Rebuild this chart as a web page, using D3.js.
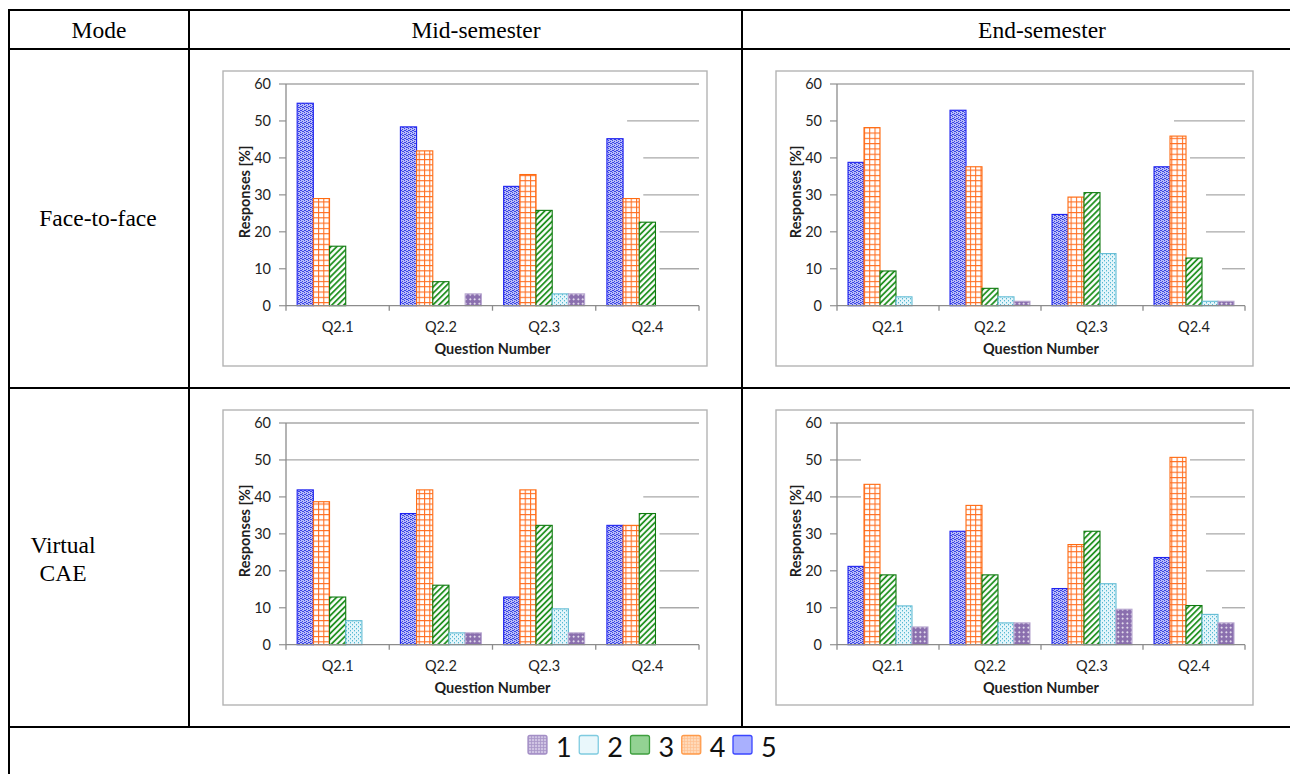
<!DOCTYPE html>
<html>
<head>
<meta charset="utf-8">
<script src="https://cdn.jsdelivr.net/npm/d3@7"></script>
<style>
  html, body { margin: 0; padding: 0; background: #fff; }
  svg { display: block; }
</style>
</head>
<body>
<svg id="chart" width="1290" height="774"></svg>
<script>
// ---------------- DATA ----------------
const categories = ["Q2.1", "Q2.2", "Q2.3", "Q2.4"];
const seriesOrder = ["5", "4", "3", "2", "1"];      // bar order within a group
const legendOrder = ["1", "2", "3", "4", "5"];
const yTicks = [0, 10, 20, 30, 40, 50, 60];
const rowLabels = ["Face-to-face", "Virtual\nCAE"];
const colLabels = ["Mode", "Mid-semester", "End-semester"];

// values per panel, rows follow seriesOrder (5,4,3,2,1), columns follow categories
const midF2F = [
  [54.8, 48.4, 32.3, 45.2],
  [29.0, 41.9, 35.5, 29.0],
  [16.1, 6.5, 25.8, 22.6],
  [0, 0, 3.2, 0],
  [0, 3.2, 3.2, 0]
];
const endF2F = [
  [38.8, 52.9, 24.7, 37.6],
  [48.2, 37.6, 29.4, 45.9],
  [9.4, 4.7, 30.6, 12.9],
  [2.4, 2.4, 14.1, 1.2],
  [0, 1.2, 0, 1.2]
];
const midCAE = [
  [41.9, 35.5, 12.9, 32.3],
  [38.7, 41.9, 41.9, 32.3],
  [12.9, 16.1, 32.3, 35.5],
  [6.5, 3.2, 9.7, 0],
  [0, 3.2, 3.2, 0]
];
const endCAE = [
  [21.2, 30.7, 15.2, 23.6],
  [43.4, 37.7, 27.1, 50.7],
  [18.9, 18.9, 30.7, 10.6],
  [10.5, 5.9, 16.5, 8.2],
  [4.8, 5.9, 9.6, 5.9]
];
// gridline visibility (levels 10..60): visible after the k-th bar of last group (0 = full)
const gridFromMidF2F = [3, 3, 2, 2, 1, 0];
const gridFromEndF2F = [4, 3, 3, 2, 1, 0];
const gridFromMidCAE = [3, 3, 3, 2, 0, 0];
const gridFromEndCAE = [4, 3, 3, 2, 2, 0];
const gridLeftEndCAE = [0, 0, 0, 1, 1, 0];

// ---------------- LAYOUT ----------------
const svg = d3.select("#chart");
const defs = svg.append("defs");

const panels = [
  {data: midF2F, grid: gridFromMidF2F, left: null,
   frame: [223, 71, 707, 366], plot: [286, 699, 84, 305.7]},
  {data: endF2F, grid: gridFromEndF2F, left: null,
   frame: [776, 71, 1253, 366], plot: [837, 1245, 84, 305.7]},
  {data: midCAE, grid: gridFromMidCAE, left: null,
   frame: [223, 410, 707, 705], plot: [286, 699, 423, 644.7]},
  {data: endCAE, grid: gridFromEndCAE, left: gridLeftEndCAE,
   frame: [776, 410, 1253, 705], plot: [837, 1245, 423, 644.7]}
];

// ---------------- PATTERNS ----------------
function pat(id, w, h, transform) {
  const p = defs.append("pattern").attr("id", id)
    .attr("patternUnits", "userSpaceOnUse").attr("width", w).attr("height", h);
  if (transform) p.attr("patternTransform", transform);
  return p;
}
// series 5 - blue stipple
let p5 = pat("p5", 4, 4);
p5.append("rect").attr("width", 4).attr("height", 4).attr("fill", "#b9bdf8");
[[0,0],[2,1],[1,2],[3,3],[2,3],[0,2]].forEach(([x,y]) =>
  p5.append("rect").attr("x", x).attr("y", y).attr("width", 1).attr("height", 1).attr("fill", "#3a44e4"));
// series 4 - orange grid
let p4 = pat("p4", 5.3, 5.3);
p4.append("rect").attr("width", 5.3).attr("height", 5.3).attr("fill", "#fff");
p4.append("path").attr("d", "M0,0.5H5.3M0.5,0V5.3").attr("stroke", "#ff6d1f").attr("stroke-width", 1.1);
// series 3 - green diagonal stripes
let p3 = pat("p3", 4.2, 4.2, "rotate(45)");
p3.append("rect").attr("width", 4.2).attr("height", 4.2).attr("fill", "#fff");
p3.append("line").attr("x1", 1).attr("x2", 1).attr("y1", 0).attr("y2", 4.2)
  .attr("stroke", "#128a12").attr("stroke-width", 1.7);
// series 2 - light cyan dots
let p2 = pat("p2", 4, 4);
p2.append("rect").attr("width", 4).attr("height", 4).attr("fill", "#e4f5fa");
[[0,0],[2,2]].forEach(([x,y]) =>
  p2.append("rect").attr("x", x).attr("y", y).attr("width", 1).attr("height", 1.4).attr("fill", "#55b9d3"));
// series 1 - purple with white dots
let p1 = pat("p1", 4.5, 4.5);
p1.append("rect").attr("width", 4.5).attr("height", 4.5).attr("fill", "#8a6fae");
p1.append("path").attr("d", "M2.25,1.3V3.2M1.3,2.25H3.2").attr("stroke", "#fff").attr("stroke-width", 0.9);

// legend patterns
let lp1 = pat("lp1", 3, 3);
lp1.append("rect").attr("width", 3).attr("height", 3).attr("fill", "#cfc3e3");
lp1.append("path").attr("d", "M0,0.5H3M0.5,0V3").attr("stroke", "#a895c8").attr("stroke-width", 0.8);
let lp4 = pat("lp4", 3, 3);
lp4.append("rect").attr("width", 3).attr("height", 3).attr("fill", "#ffd9b8");
lp4.append("path").attr("d", "M0,0.5H3M0.5,0V3").attr("stroke", "#ffc090").attr("stroke-width", 0.7);

const seriesStyle = {
  "5": {fill: "url(#p5)", stroke: "#1f22f0"},
  "4": {fill: "url(#p4)", stroke: "#ff6a10"},
  "3": {fill: "url(#p3)", stroke: "#0f7a0f"},
  "2": {fill: "url(#p2)", stroke: "#62bcd4"},
  "1": {fill: "url(#p1)", stroke: "#b7a6cf"}
};
const legendStyle = {
  "1": {fill: "url(#lp1)", stroke: "#a48fc6"},
  "2": {fill: "#e9f7fb", stroke: "#7fcbe0"},
  "3": {fill: "#93d293", stroke: "#3f9f3f"},
  "4": {fill: "url(#lp4)", stroke: "#ff9a4a"},
  "5": {fill: "#a9b0fe", stroke: "#3a45ff"}
};

// ---------------- TABLE ----------------
const tbl = svg.append("g").attr("stroke", "#000").attr("stroke-width", 2);
[10, 49, 388, 727].forEach(y => tbl.append("line").attr("x1", 8).attr("x2", 1290).attr("y1", y).attr("y2", y));
tbl.append("line").attr("x1", 9).attr("x2", 9).attr("y1", 9).attr("y2", 774);
[189, 742].forEach(x => tbl.append("line").attr("x1", x).attr("x2", x).attr("y1", 10).attr("y2", 727));

const serif = "'Liberation Serif', 'Times New Roman', serif";
const headX = [99, 476, 1042];
const headSize = 23.5;
colLabels.forEach((t, i) => svg.append("text").attr("x", headX[i]).attr("y", 37.5)
  .attr("text-anchor", "middle").attr("font-family", serif).attr("font-size", headSize).text(t));
svg.append("text").attr("x", 98).attr("y", 226).attr("text-anchor", "middle")
  .attr("font-family", serif).attr("font-size", headSize).text(rowLabels[0]);
rowLabels[1].split("\n").forEach((t, i) => svg.append("text").attr("x", 63).attr("y", 553 + i * 28)
  .attr("text-anchor", "middle").attr("font-family", serif).attr("font-size", headSize).text(t));

// ---------------- PANELS ----------------
const sans = "Lato, 'Open Sans', sans-serif";
const fs = 14.5;
panels.forEach(pn => {
  const [fx0, fy0, fx1, fy1] = pn.frame;
  const [px0, px1, py0, py1] = pn.plot;
  const g = svg.append("g");
  g.append("rect").attr("x", fx0).attr("y", fy0).attr("width", fx1 - fx0).attr("height", fy1 - fy0)
    .attr("fill", "#fff").attr("stroke", "#b4b4b4").attr("stroke-width", 1.4);

  const x0 = d3.scaleBand().domain(categories).range([px0, px1]).paddingInner(0).paddingOuter(0);
  const bw = x0.bandwidth();
  const x1 = d3.scaleBand().domain(seriesOrder).range([bw * 0.108, bw * 0.892]).padding(0);
  const y = d3.scaleLinear().domain([0, 60]).range([py1, py0]);

  // gridlines
  const lastCat = categories[categories.length - 1];
  yTicks.slice(1).forEach((v, i) => {
    const k = pn.grid[i];
    const startX = k === 0 ? px0 : x0(lastCat) + x1(seriesOrder[k - 1]) + x1.bandwidth() + 4;
    g.append("line").attr("x1", startX).attr("x2", px1).attr("y1", y(v)).attr("y2", y(v))
      .attr("stroke", "#a9a9a9").attr("stroke-width", 1.3);
    if (pn.left && pn.left[i] > 0) {
      const endX = x0(categories[0]) + x1(seriesOrder[pn.left[i]]) - 3;
      g.append("line").attr("x1", px0).attr("x2", endX).attr("y1", y(v)).attr("y2", y(v))
        .attr("stroke", "#a9a9a9").attr("stroke-width", 1.3);
    }
  });
  // y tick stubs
  yTicks.forEach(v => g.append("line").attr("x1", px0 - 7).attr("x2", px0).attr("y1", y(v)).attr("y2", y(v))
    .attr("stroke", "#9a9a9a").attr("stroke-width", 1.3));

  // bars
  const bars = [];
  pn.data.forEach((row, si) => row.forEach((v, ci) => {
    if (v > 0) bars.push({s: seriesOrder[si], c: categories[ci], v});
  }));
  g.selectAll("rect.bar").data(bars).enter().append("rect").attr("class", "bar")
    .attr("x", d => x0(d.c) + x1(d.s))
    .attr("y", d => y(d.v))
    .attr("width", x1.bandwidth())
    .attr("height", d => y(0) - y(d.v))
    .attr("fill", d => seriesStyle[d.s].fill)
    .attr("stroke", d => seriesStyle[d.s].stroke)
    .attr("stroke-width", 1.1);

  // axes lines
  g.append("line").attr("x1", px0).attr("x2", px0).attr("y1", py0).attr("y2", py1)
    .attr("stroke", "#8c8c8c").attr("stroke-width", 1.3);
  g.append("line").attr("x1", px0).attr("x2", px1).attr("y1", py1).attr("y2", py1)
    .attr("stroke", "#8c8c8c").attr("stroke-width", 1.3);
  const bounds = categories.map(c => x0(c)).concat([px1]);
  bounds.forEach(bx => g.append("line").attr("x1", bx).attr("x2", bx).attr("y1", py1).attr("y2", py1 + 5)
    .attr("stroke", "#8c8c8c").attr("stroke-width", 1.3));

  // tick labels
  yTicks.forEach(v => g.append("text").attr("x", px0 - 15).attr("y", y(v) + 5.2)
    .attr("text-anchor", "end").attr("font-family", sans).attr("font-size", fs).attr("fill", "#1e1e1e").text(v));
  categories.forEach(c => g.append("text").attr("x", x0(c) + bw / 2).attr("y", py1 + 26.5)
    .attr("text-anchor", "middle").attr("font-family", sans).attr("font-size", fs).attr("fill", "#1e1e1e").text(c));
  g.append("text").attr("x", (px0 + px1) / 2).attr("y", py1 + 48.5)
    .attr("text-anchor", "middle").attr("font-family", sans).attr("font-size", fs)
    .attr("font-weight", "bold").attr("fill", "#1e1e1e").text("Question Number");
  g.append("text").attr("transform", `translate(${px0 - 36},${(py0 + py1) / 2 - 3}) rotate(-90)`)
    .attr("text-anchor", "middle").attr("font-family", sans).attr("font-size", fs)
    .attr("font-weight", "bold").attr("fill", "#1e1e1e").text("Responses [%]");
});

// ---------------- LEGEND ----------------
const lx = d3.scalePoint().domain(legendOrder).range([528, 733]);
const lg = svg.append("g");
legendOrder.forEach(s => {
  lg.append("rect").attr("x", lx(s)).attr("y", 735.5).attr("width", 19).attr("height", 18.5)
    .attr("rx", 2).attr("fill", legendStyle[s].fill).attr("stroke", legendStyle[s].stroke).attr("stroke-width", 1.3);
  lg.append("text").attr("x", lx(s) + 28).attr("y", 757).attr("font-family", sans)
    .attr("font-size", 27).attr("fill", "#111").text(s);
});
</script>
</body>
</html>
